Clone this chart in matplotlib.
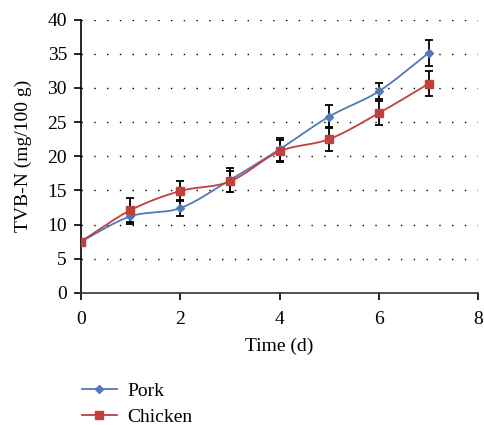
import numpy as np
import matplotlib
matplotlib.use("Agg")
import matplotlib.pyplot as plt
from matplotlib.lines import Line2D

days = [0, 1, 2, 3, 4, 5, 6, 7]
pork = [7.5, 11.2, 12.4, 16.5, 21.0, 25.8, 29.5, 35.1]
pork_err = [0.0, 1.1, 1.2, 1.7, 1.7, 1.7, 1.2, 1.9]
chicken = [7.5, 12.1, 14.9, 16.3, 20.7, 22.5, 26.3, 30.6]
chicken_err = [0.0, 1.8, 1.5, 1.5, 1.6, 1.7, 1.8, 1.85]

blue = "#4f79b8"
red = "#c0403d"

plt.rcParams['font.family'] = ['Liberation Serif', 'DejaVu Serif']


def smooth(x, y, n=20):
    # Catmull-Rom path through the points, like Excel's smoothed line
    x = np.asarray(x, float)
    y = np.asarray(y, float)
    px = np.concatenate([[2 * x[0] - x[1]], x, [2 * x[-1] - x[-2]]])
    py = np.concatenate([[2 * y[0] - y[1]], y, [2 * y[-1] - y[-2]]])
    xs, ys = [], []
    t = np.linspace(0, 1, n, endpoint=False)
    for i in range(1, len(px) - 2):
        for p, out in ((px, xs), (py, ys)):
            p0, p1, p2, p3 = p[i - 1], p[i], p[i + 1], p[i + 2]
            out.extend(0.5 * (2 * p1 + (-p0 + p2) * t
                              + (2 * p0 - 5 * p1 + 4 * p2 - p3) * t ** 2
                              + (-p0 + 3 * p1 - 3 * p2 + p3) * t ** 3))
    xs.append(x[-1])
    ys.append(y[-1])
    return xs, ys


fig = plt.figure(figsize=(4.84, 4.25), dpi=100)
ax = fig.add_axes([0.167, 0.311, 0.821, 0.643])

for y in range(5, 45, 5):
    ax.axhline(y, color="black", lw=1.0, ls=(0, (1, 8.2)), zorder=0)

sx, sy = smooth(days, pork)
ax.plot(sx, sy, color=blue, lw=1.3, zorder=2)
sx, sy = smooth(days, chicken)
ax.plot(sx, sy, color=red, lw=1.3, zorder=2)

ax.errorbar(days, pork, yerr=pork_err, fmt="none", ecolor="black",
            elinewidth=1.3, capsize=3, capthick=1.3, zorder=3)
ax.errorbar(days, chicken, yerr=chicken_err, fmt="none", ecolor="black",
            elinewidth=1.3, capsize=3, capthick=1.3, zorder=3)

ax.plot(days, pork, ls="none", marker="D", ms=4.5, color=blue, zorder=4)
ax.plot(days, chicken, ls="none", marker="s", ms=6, color=red, zorder=4)

ax.set_xlim(0, 8)
ax.set_ylim(0, 40)
ax.set_xticks([0, 2, 4, 6, 8])
ax.set_yticks(range(0, 45, 5))
ax.spines["top"].set_visible(False)
ax.spines["right"].set_visible(False)
ax.spines["left"].set_linewidth(1.2)
ax.spines["bottom"].set_linewidth(1.2)
ax.spines["bottom"].set_color("#333333")
ax.tick_params(direction="out", length=5, width=1.2, labelsize=14, pad=5)
ax.tick_params(axis="x", pad=8)
ax.set_xlabel("Time (d)", fontsize=14, labelpad=7)
ax.set_ylabel("TVB-N (mg/100 g)", fontsize=14, labelpad=11)

handles = [
    Line2D([], [], color=blue, lw=1.3, marker="D", ms=4.5),
    Line2D([], [], color=red, lw=1.3, marker="s", ms=6),
]
fig.legend(handles, ["Pork", "Chicken"], loc="upper left",
           bbox_to_anchor=(0.169, 0.1), frameon=False, fontsize=14,
           handlelength=1.8, handletextpad=0.55, labelspacing=0.4,
           borderpad=0, borderaxespad=0)

fig.savefig("out.png", dpi=100)
